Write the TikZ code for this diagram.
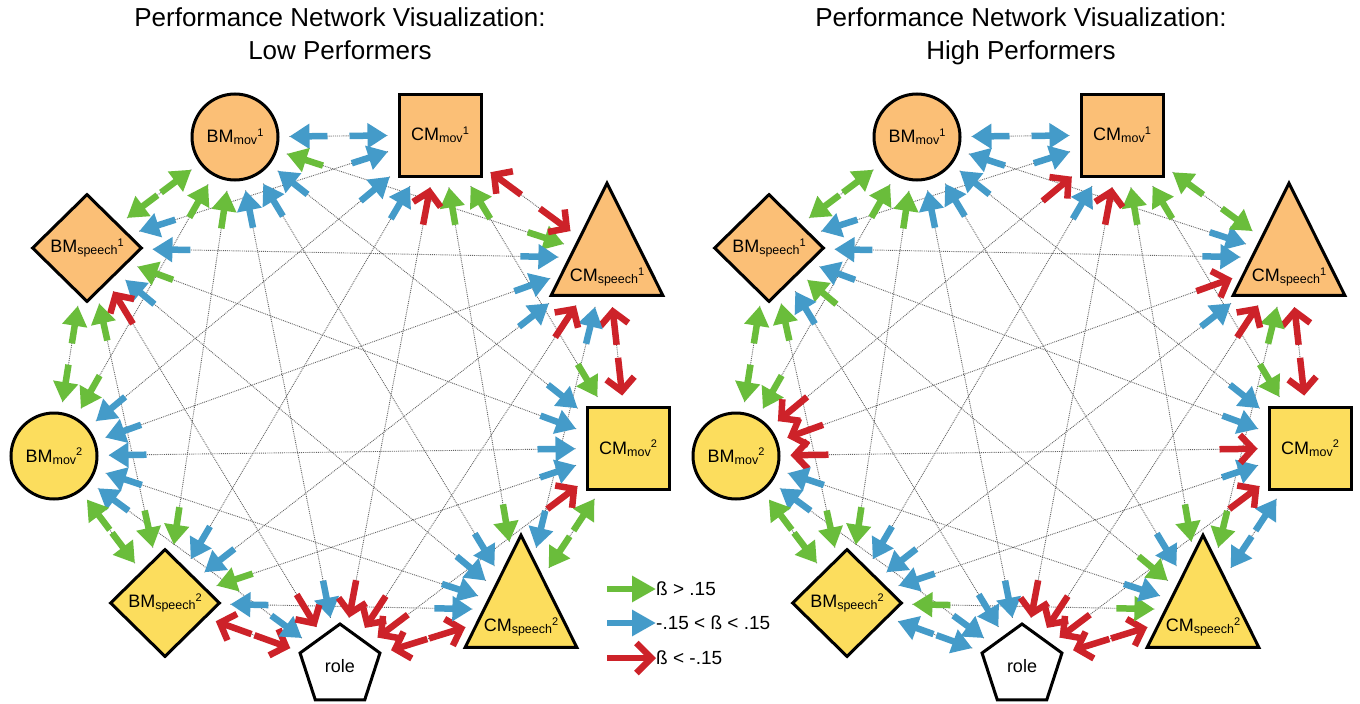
\documentclass[tikz,border=0pt]{standalone}
\usepackage{fontspec}
\setmainfont{Liberation Sans}
\usetikzlibrary{arrows.meta,calc,shapes.geometric}
\definecolor{cG}{RGB}{106,189,59}
\definecolor{cB}{RGB}{68,155,201}
\definecolor{cR}{RGB}{205,34,41}
\definecolor{fOr}{RGB}{251,191,118}
\definecolor{fYe}{RGB}{252,221,93}
\definecolor{dotc}{RGB}{100,100,100}
\pgfdeclarelayer{bg}
\pgfsetlayers{bg,main}
\newcommand\nlfont{\fontsize{18}{18}\selectfont}
\newcommand\nlab[3]{#1{\fontsize{12.5}{12.5}\selectfont\raisebox{-2pt}{#2}}{\fontsize{11}{11}\selectfont\raisebox{6.5pt}{#3}}}
\tikzset{
 arrowG/.style={draw=cG, line width=6.5pt, -{Triangle[length=20pt,width=24pt]}},
 arrowB/.style={draw=cB, line width=6.5pt, -{Triangle[length=20pt,width=24pt]}},
 arrowR/.style={draw=cR, line width=6.5pt, -{Straight Barb[length=13pt,width=28pt,line width=6.5pt]}},
 legG/.style={draw=cG, line width=6.5pt, -{Triangle[length=24pt,width=25pt]}},
 legB/.style={draw=cB, line width=6.5pt, -{Triangle[length=24pt,width=25pt]}},
 legR/.style={draw=cR, line width=6.5pt, -{Straight Barb[length=15pt,width=30pt,line width=6.5pt]}},
 dotline/.style={draw=dotc, line width=0.9pt, densely dotted},
 nd/.style={draw=black, line width=3pt, font=\nlfont, inner sep=0pt},
 circ/.style={nd, circle, minimum size=86pt},
 sq/.style={nd, rectangle, minimum size=82pt},
 dia/.style={nd, diamond, minimum width=110pt, minimum height=108pt},
 tri/.style={nd, regular polygon, regular polygon sides=3, minimum size=129pt},
 pent/.style={nd, regular polygon, regular polygon sides=5, minimum size=84pt, fill=white},
 lbl/.style={font=\nlfont, inner sep=0pt},
 ttl/.style={font=\fontsize{26}{31}\selectfont, inner sep=0pt, anchor=base},
 legt/.style={font=\fontsize{19}{19}\selectfont, inner sep=0pt, anchor=west},
}
\newcommand\netnodes[2]{%
\begin{scope}[xshift=#2]
\node[circ, fill=fOr] (#1B1) at (235,137) {\nlab{BM}{mov}{1}};
\node[sq, fill=fOr] (#1C1) at (440,135) {\nlab{CM}{mov}{1}};
\begin{scope}[shift={(607,258)}, yscale=1.16]
\node[tri, fill=fOr, transform shape] (#1S1) at (0,0) {};
\end{scope}
\node[lbl] (#1S1t) at (607,277) {\nlab{CM}{speech}{1}};
\node[sq, fill=fYe] (#1C2) at (628,448) {\nlab{CM}{mov}{2}};
\begin{scope}[shift={(521,610)}, yscale=1.16]
\node[tri, fill=fYe, transform shape] (#1S2) at (0,0) {};
\end{scope}
\node[lbl] (#1S2t) at (521,627) {\nlab{CM}{speech}{2}};
\node[pent] (#1RO) at (340,666) {role};
\node[dia, fill=fYe] (#1D2) at (165,603) {\nlab{BM}{speech}{2}};
\node[circ, fill=fYe] (#1B2) at (54,456) {\nlab{BM}{mov}{2}};
\node[dia, fill=fOr] (#1D1) at (87,248) {\nlab{BM}{speech}{1}};
\end{scope}}
\newcommand\netedge[4]{%
  \path (#1) -- (#2) coordinate[pos=0] (ea) coordinate[pos=1] (eb);
  \begin{pgfonlayer}{bg}
  \draw[dotline] ($(ea)!10pt!(eb)$) -- ($(eb)!10pt!(ea)$);
  \end{pgfonlayer}
  \draw[arrow#3] ($(ea)!48pt!(eb)$) -- ($(ea)!10pt!(eb)$);
  \draw[arrow#4] ($(eb)!48pt!(ea)$) -- ($(eb)!10pt!(ea)$);
}
\def\leftedges{B1/C1/B/B, B1/S1/G/G, B1/C2/B/B, B1/S2/B/B, B1/RO/B/B, B1/D2/G/G, B1/B2/G/G, B1/D1/G/G, C1/S1/R/R, C1/C2/G/G, C1/S2/G/G, C1/RO/R/R, C1/D2/B/B, C1/B2/B/B, C1/D1/B/B, S1/C2/R/R, S1/S2/B/B, S1/RO/R/R, S1/D2/B/B, S1/B2/B/B, S1/D1/B/B, C2/S2/G/G, C2/RO/R/R, C2/D2/B/G, C2/B2/B/B, C2/D1/B/G, S2/RO/R/R, S2/D2/B/B, S2/B2/B/B, S2/D1/B/B, RO/D2/R/R, RO/B2/B/B, RO/D1/R/R, D2/B2/G/G, D2/D1/G/G, B2/D1/G/G}
\def\rightedges{B1/C1/B/B, B1/S1/B/B, B1/C2/B/B, B1/S2/B/B, B1/RO/B/B, B1/D2/G/G, B1/B2/G/G, B1/D1/G/G, C1/S1/G/G, C1/C2/G/G, C1/S2/G/G, C1/RO/R/R, C1/D2/B/B, C1/B2/R/R, C1/D1/B/B, S1/C2/R/R, S1/S2/G/G, S1/RO/R/R, S1/D2/B/B, S1/B2/R/R, S1/D1/B/B, C2/S2/B/B, C2/RO/R/R, C2/D2/B/B, C2/B2/R/R, C2/D1/B/B, S2/RO/R/R, S2/D2/G/G, S2/B2/B/B, S2/D1/G/G, RO/D2/B/B, RO/B2/B/B, RO/D1/B/B, D2/B2/G/G, D2/D1/G/G, B2/D1/G/G}
\begin{document}
\begin{tikzpicture}[x=1pt,y=-1pt]
\useasboundingbox (0,0) rectangle (1360,704);
\begin{pgfonlayer}{bg}
\fill[white] (0,0) rectangle (1360,704);
\end{pgfonlayer}
\node[ttl] (tL1) at (340,27) {Performance Network Visualization:};
\node[ttl] (tL2) at (340,59) {Low Performers};
\node[ttl] (tR1) at (1021,27) {Performance Network Visualization:};
\node[ttl] (tR2) at (1021,59) {High Performers};
\netnodes{L}{0pt}
\netnodes{R}{682pt}
\foreach \a/\b/\ca/\cb in \leftedges {\netedge{L\a}{L\b}{\ca}{\cb}}
\foreach \a/\b/\ca/\cb in \rightedges {\netedge{R\a}{R\b}{\ca}{\cb}}
% legend
\node[legt] (lt1) at (656,589) {ß > .15};
\node[legt] (lt2) at (656,623) {-.15 < ß < .15};
\node[legt] (lt3) at (656,658) {ß < -.15};
\coordinate (la1) at (607,589);
\coordinate (la2) at (607,623);
\coordinate (la3) at (607,658);
\draw[legG] (la1) -- (lt1.west);
\draw[legB] (la2) -- (lt2.west);
\draw[legR] (la3) -- (lt3.west);
\end{tikzpicture}
\end{document}
